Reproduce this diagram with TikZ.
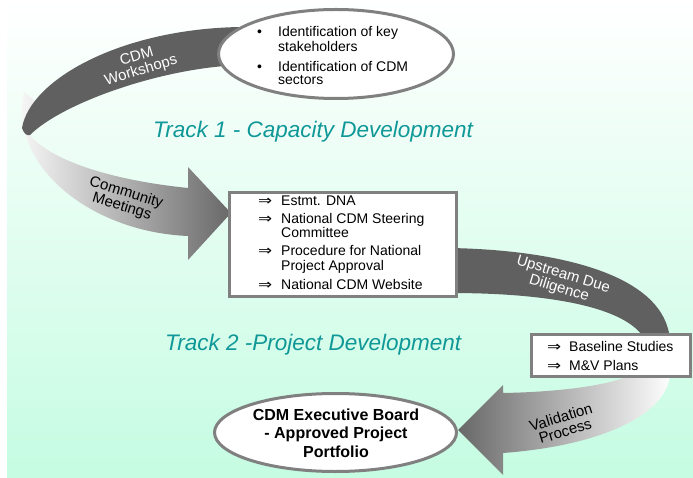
\documentclass[tikz,border=0pt]{standalone}
\usepackage{fontspec}
\usepackage{graphicx}
\setmainfont{Liberation Sans}
\newfontfamily\symf{DejaVu Sans}
\usetikzlibrary{shapes.geometric}
\newcommand\myfs[2]{\fontsize{#1}{#2}\selectfont}
\newcommand\darr{\scalebox{1.2}[1]{\symf ⇒}}
\definecolor{bandgray}{RGB}{96,96,96}
\definecolor{gradgray}{RGB}{104,104,104}
\definecolor{edgegray}{RGB}{128,128,128}
\definecolor{mint}{RGB}{197,252,226}
\definecolor{tealtxt}{RGB}{16,152,152}
\tikzset{
  ell/.style={ellipse, draw=edgegray, line width=3pt, fill=white, inner sep=0pt},
  boxst/.style={rectangle, draw=edgegray, line width=3pt, fill=white, inner sep=0pt},
  ln/.style={inner sep=0pt, anchor=base west, font=\myfs{14}{14}},
  bold/.style={inner sep=0pt, anchor=base, font=\bfseries\myfs{16}{16}},
  title/.style={inner sep=0pt, anchor=base west, text=tealtxt, font=\itshape\myfs{22.5}{22.5}},
  wlab/.style={inner sep=0pt, align=center, text=white, font=\myfs{15}{14.5}},
  klab/.style={inner sep=0pt, align=center, text=black, font=\myfs{15}{14.5}},
}
\begin{document}
\begin{tikzpicture}[x=1pt,y=-1pt]
\useasboundingbox (0,0) rectangle (693,478);
\shade[top color=white, bottom color=mint] (7,0) rectangle (693,478);

% track 1 ribbon: front (gradient) part with arrow
\shade[left color=white, right color=gradgray]
  (24,92) .. controls (8,165) and (90,232) .. (188,236) -- (188,260) -- (231,213)
  -- (188,167) -- (188,188) .. controls (110,180) and (50,160) .. (30,135) -- (34,100) -- cycle;
% track 1 ribbon: back (dark) part
\fill[bandgray] (240,27) .. controls (120,29) and (30,80) .. (22,128)
  .. controls (24,134) and (27,136) .. (30,135)
  .. controls (60,105) and (150,72) .. (225,66) -- cycle;

% track 2 ribbon: dark part
\fill[bandgray] (450,248) .. controls (560,250) and (665,275) .. (670,340) -- (645,340)
  .. controls (630,310) and (560,293) .. (450,293) -- cycle;
% track 2 ribbon: gradient part with arrow
\shade[left color=gradgray, right color=white]
  (670,370) .. controls (672,410) and (610,445) .. (503,453) -- (503,475) -- (458,430)
  -- (503,385) -- (503,393) .. controls (560,392) and (620,385) .. (640,370) -- cycle;

% shapes
\node[ell, minimum width=235pt, minimum height=89pt] (e1) at (336,54) {};
\node[boxst, minimum width=227pt, minimum height=104pt] (b1) at (343,244.5) {};
\node[boxst, minimum width=159pt, minimum height=42pt] (b2) at (611,355.5) {};
\node[ell, minimum width=242pt, minimum height=78pt] (e2) at (335.5,432.5) {};

% ellipse 1 text
\node[ln] (bu1) at (257,37) {•};
\node[ln] (e1a) at (278,37) {Identification of key};
\node[ln] (e1b) at (278,51.5) {stakeholders};
\node[ln] (bu2) at (257,71.5) {•};
\node[ln] (e1c) at (278,71.5) {Identification of CDM};
\node[ln] (e1d) at (278,85) {sectors};

% box 1 text
\node[ln] (a1) at (258,206) {\darr};
\node[ln] (b1a) at (281,206) {Estmt. DNA};
\node[ln] (a2) at (258,224) {\darr};
\node[ln] (b1b) at (281,224) {National CDM Steering};
\node[ln] (b1c) at (281,238) {Committee};
\node[ln] (a3) at (258,256) {\darr};
\node[ln] (b1d) at (281,256) {Procedure for National};
\node[ln] (b1e) at (281,270) {Project Approval};
\node[ln] (a4) at (258,289) {\darr};
\node[ln] (b1f) at (281,289) {National CDM Website};

% box 2 text
\node[ln] (a5) at (547,351) {\darr};
\node[ln] (b2a) at (569,351) {Baseline Studies};
\node[ln] (a6) at (547,370) {\darr};
\node[ln] (b2b) at (569,370) {M\&V Plans};

% ellipse 2 text
\node[bold] (e2a) at (336,420) {CDM Executive Board};
\node[bold] (e2b) at (336,438.5) {- Approved Project};
\node[bold] (e2c) at (336,457) {Portfolio};

% titles
\node[title] (t1) at (153,138) {Track 1 - Capacity Development};
\node[title] (t2) at (165,350) {Track 2 -Project Development};

% ribbon labels
\node[wlab, rotate=17] (lw) at (139,64) {CDM\\Workshops};
\node[klab, rotate=-17] (lc) at (124,200) {Community\\Meetings};
\node[wlab, rotate=-17] (lu) at (561,282) {Upstream Due\\Diligence};
\node[klab, rotate=17] (lv) at (563,424) {Validation\\Process};
\end{tikzpicture}
\end{document}
